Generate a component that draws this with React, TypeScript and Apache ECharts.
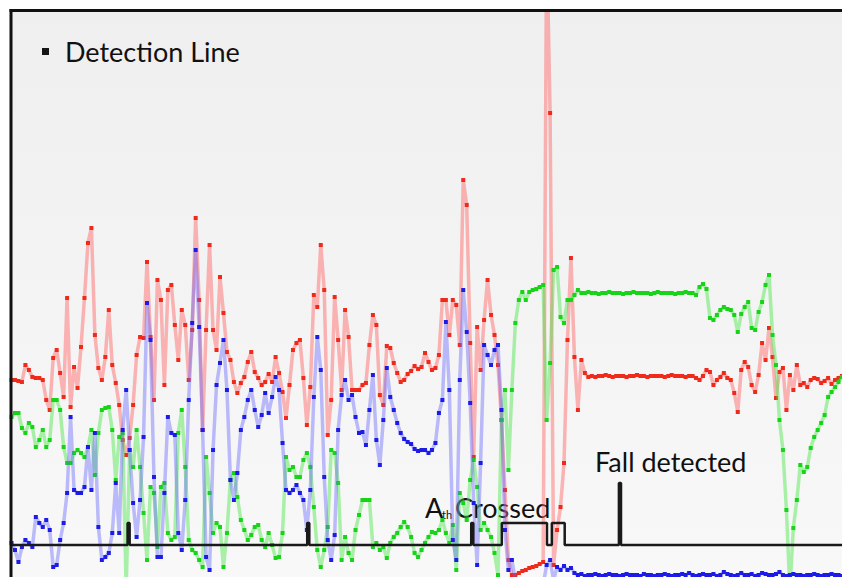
import React, { useEffect, useRef } from "react";
import * as echarts from "echarts";

// Accelerometer magnitudes (sample index 0..239), height units above the plot floor
const redAxis: number[] = [
  197,197,196,195,212,207,200,199,199,197,
  177,167,219,227,204,180,279,170,210,189,
  230,279,334,349,242,209,197,220,267,212,
  194,172,137,122,139,172,222,240,239,315,
  240,177,297,277,192,287,292,252,217,267,
  252,197,247,359,277,147,247,332,247,227,
  300,264,225,217,195,184,194,200,215,225,
  205,199,192,195,203,195,220,204,185,159,
  192,227,234,237,199,152,190,282,270,332,
  287,142,177,280,237,187,267,240,187,187,
  187,192,194,232,262,252,182,172,231,229,
  214,204,195,197,203,206,211,208,210,224,
  215,207,209,222,277,277,242,277,272,232,
  397,372,234,120,250,207,257,297,262,242,
  212,157,87,17,2,2,4,6,7,9,
  10,11,13,15,640,464,12,47,70,114,
  237,319,220,167,217,204,200,201,200,201,
  201,202,201,200,201,201,201,200,201,201,
  202,201,201,200,201,201,201,201,200,201,
  202,201,201,201,200,201,201,199,197,201,
  207,205,192,197,200,204,199,197,184,165,
  207,215,210,192,185,202,234,217,249,220,
  179,205,209,167,202,187,212,192,194,190,
  197,199,198,194,196,199,193,197,199,201,
];

const blueAxis: number[] = [
  34,27,15,30,37,34,30,60,54,50,
  57,47,10,12,37,54,84,160,87,84,
  84,90,130,87,144,50,17,20,24,44,
  94,44,147,187,127,74,40,77,140,274,
  237,100,20,20,84,160,144,142,44,27,
  77,177,254,327,250,147,20,7,127,192,
  214,237,187,97,77,104,147,160,177,187,
  167,150,162,184,164,180,200,187,134,87,
  84,87,92,84,77,47,87,180,240,207,
  100,37,17,42,147,182,197,177,182,160,
  144,145,132,167,202,137,112,157,209,180,
  167,154,144,138,135,133,128,126,127,127,
  124,127,134,164,177,255,187,37,17,197,
  287,245,174,74,12,114,232,222,212,227,
  232,167,47,7,17,-3,-8,-11,-11,-9,
  -9,-8,-9,-8,12,17,-3,10,7,11,
  7,9,4,2,3,1,2,2,3,2,
  1,2,3,2,2,1,2,3,2,2,
  2,1,3,2,2,1,2,2,3,2,
  1,2,2,3,2,4,2,1,2,3,
  2,2,3,1,2,5,3,2,1,2,
  4,2,2,3,1,2,4,3,2,2,
  3,5,2,1,2,3,2,2,1,2,
  2,3,2,1,2,2,3,2,2,1,
];

const greenAxis: number[] = [
  160,164,164,149,144,154,150,130,137,147,
  130,137,177,177,167,130,114,114,124,127,
  124,120,130,147,102,144,167,169,170,147,
  97,140,144,-13,127,110,147,110,64,17,
  90,84,30,90,94,44,37,40,144,167,
  110,37,27,24,17,10,120,84,44,54,
  50,10,44,97,104,80,57,47,37,42,
  50,52,37,30,44,32,19,20,44,120,
  107,110,100,100,117,124,110,70,27,10,
  27,50,127,124,94,17,40,24,17,47,
  62,77,77,77,30,34,27,30,19,34,
  40,44,50,55,50,40,24,20,27,34,
  40,45,44,47,57,44,34,52,7,84,
  74,57,97,117,90,47,54,47,40,24,
  2,157,187,107,187,254,277,285,277,285,
  287,288,290,292,157,214,307,310,260,254,
  277,277,282,287,284,284,285,284,284,283,
  284,284,285,284,284,284,283,284,284,285,
  284,284,284,284,283,284,285,284,284,284,
  284,283,284,284,285,284,284,282,290,293,
  288,259,257,262,267,270,268,267,262,245,
  263,270,275,249,247,265,275,292,302,242,
  212,157,127,67,-13,49,77,112,105,110,
  129,140,147,154,162,180,185,190,195,200,
];

// Detection line (threshold flag): sample position / level
const detectT: number[] = [0, 33.4, 33.4, 34.0, 34.0, 85.1, 85.1, 85.7, 85.7, 132.3, 132.3, 132.9, 132.9, 141.1, 141.1, 154.1, 154.1, 155.5, 155.5, 159.2, 159.2, 174.8, 174.8, 175.4, 175.4, 240];
const detectV: number[] = [32, 32, 54, 54, 32, 32, 54, 54, 32, 32, 54, 54, 32, 32, 54, 54, 32, 32, 54, 54, 32, 32, 94, 94, 32, 32];

const FONT = "Lato, 'Open Sans', sans-serif";

function accelSeries(name: string, values: number[], marker: string, band: string, z: number) {
  return {
    type: "line",
    name,
    data: values.map((v, i) => [i, v]),
    symbol: "rect",
    symbolSize: 4,
    showSymbol: true,
    showAllSymbol: true,
    clip: true,
    silent: true,
    z,
    lineStyle: { color: band, width: 3.5 },
    itemStyle: { color: marker },
    emphasis: { disabled: true },
  };
}

export default function App() {
  const ref = useRef<HTMLDivElement>(null);
  useEffect(() => {
    document.body.style.margin = "0";
    const chart = echarts.init(ref.current!, null, { renderer: "svg" });
    chart.setOption({
      animation: false,
      backgroundColor: "#ffffff",
      grid: {
        left: 11.5,
        right: 0,
        top: 11,
        bottom: 0,
        show: true,
        borderWidth: 0,
        backgroundColor: new echarts.graphic.LinearGradient(0, 0, 0, 1, [
          { offset: 0, color: "#efefef" },
          { offset: 1, color: "#f8f8f8" },
        ]),
      },
      xAxis: {
        type: "value",
        min: 0,
        max: 239,
        show: false,
      },
      yAxis: {
        type: "value",
        min: 0,
        max: 566,
        show: false,
      },
      legend: {
        data: [{ name: "Detection Line", icon: "rect" }],
        left: 42,
        top: 38,
        padding: 0,
        itemWidth: 7,
        itemHeight: 7,
        selectedMode: false,
        textStyle: { fontFamily: FONT, fontSize: 27, color: "#111111", padding: [0, 0, 0, 11] },
      },
      series: [
        accelSeries("X axis", redAxis, "#f02a1a", "rgba(255,95,95,0.45)", 2),
        accelSeries("Y axis", greenAxis, "#18d418", "rgba(70,230,70,0.45)", 3),
        accelSeries("Z axis", blueAxis, "#1c1ce6", "rgba(95,95,255,0.4)", 4),
        {
          type: "line",
          name: "Detection Line",
          data: detectT.map((t, i) => [t, detectV[i]]),
          symbol: "none",
          silent: true,
          z: 6,
          lineStyle: { color: "#1a1a1a", width: 2.5 },
          itemStyle: { color: "#151515" },
          emphasis: { disabled: true },
        },
      ],
      graphic: [
        { type: "line", shape: { x1: 9.5, y1: 10.5, x2: 842, y2: 10.5 }, style: { stroke: "#111", lineWidth: 3 }, z: 10 },
        { type: "line", shape: { x1: 11, y1: 9, x2: 11, y2: 577 }, style: { stroke: "#111", lineWidth: 3 }, z: 10 },
        { type: "text", x: 425, y: 507, style: { text: "A", font: `27px ${FONT}`, fill: "#111", textVerticalAlign: "middle", verticalAlign: "middle" } },
        { type: "text", x: 442, y: 514, style: { text: "th", font: `11px ${FONT}`, fill: "#111", textVerticalAlign: "middle", verticalAlign: "middle" } },
        { type: "text", x: 455, y: 507, style: { text: "Crossed", font: `27px ${FONT}`, fill: "#111", textVerticalAlign: "middle", verticalAlign: "middle" } },
        { type: "text", x: 595, y: 461, style: { text: "Fall detected", font: `27px ${FONT}`, fill: "#111", textVerticalAlign: "middle", verticalAlign: "middle" } },
      ],
    });
    return () => chart.dispose();
  }, []);
  return <div ref={ref} style={{ width: 842, height: 577 }} />;
}
